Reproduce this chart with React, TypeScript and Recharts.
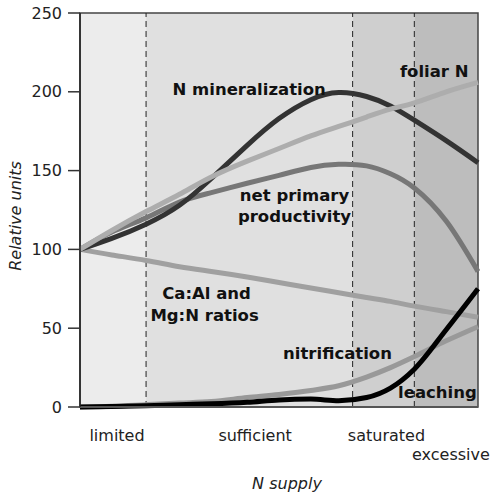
import React from "react";
import {
  LineChart,
  Line,
  XAxis,
  YAxis,
  ReferenceArea,
  ReferenceLine,
  ReferenceDot,
} from "recharts";

// N supply axis (0-100, arbitrary units)
const xs = [0, 8, 16.6, 25, 33, 42, 50, 58, 65, 72, 78, 84, 92, 100];

const nMineralization = [100, 107, 116, 128, 145, 166, 183, 195, 199.5, 197, 191, 182, 169, 155];
const foliarN = [100, 112, 124, 135, 146, 156, 164, 172, 178, 184, 189, 193, 200, 206];
const netPrimary = [100, 111, 120, 130, 136, 142, 147, 152, 154, 153, 148, 139, 118, 86];
const caAlRatios = [100, 96.5, 93, 89, 86, 82.5, 79, 75.5, 72.5, 69.5, 67, 64, 60.5, 57];
const nitrification = [0, 0.5, 1.5, 2.5, 3.5, 6, 8, 10.5, 13.5, 19, 25, 32, 42, 51];
const leaching = [0, 0.3, 0.8, 1.5, 2, 3, 4.5, 5, 4, 6, 12, 24, 49, 75];

const zoneEdges = [0, 16.6, 68.5, 84, 100];
const zoneFills = ["#ececec", "#e0e0e0", "#cfcfcf", "#bdbdbd"];

const supplyTicks = [9.3, 44, 77, 93.2];
const supplyLabels = ["limited", "sufficient", "saturated", "excessive"];

const yTicks = [0, 50, 100, 150, 200, 250];

const annotations = [
  { text: "N mineralization", x: 42.5, y: 202 },
  { text: "foliar N", x: 89, y: 213 },
  { text: "net primary", x: 53.9, y: 134.5 },
  { text: "productivity", x: 53.9, y: 121 },
  { text: "Ca:Al and", x: 31.8, y: 72.5 },
  { text: "Mg:N ratios", x: 31.3, y: 58.5 },
  { text: "nitrification", x: 64.7, y: 34 },
  { text: "leaching", x: 89.8, y: 9.7 },
];

const data = xs.map((x, i) => ({
  x,
  nmin: nMineralization[i],
  foliar: foliarN[i],
  npp: netPrimary[i],
  caal: caAlRatios[i],
  nitr: nitrification[i],
  leach: leaching[i],
}));

const SupplyTick = (props: any) => {
  const { x, y, payload } = props;
  const idx = supplyTicks.indexOf(payload.value);
  const label = supplyLabels[idx] ?? "";
  const drop = label === "excessive" ? 45 : 26;
  return (
    <text x={x} y={y + drop} textAnchor="middle" fontSize={16} fill="#222">
      {label}
    </text>
  );
};

export default function App() {
  return (
    <div style={{ position: "absolute", left: 0, top: 0, fontFamily: "DejaVu Sans" }}>
      <LineChart
        width={492}
        height={492}
        data={data}
        margin={{ top: 13, right: 14, left: 0, bottom: 0 }}
      >
        {zoneFills.map((fill, i) => (
          <ReferenceArea
            key={fill}
            x1={zoneEdges[i]}
            x2={zoneEdges[i + 1]}
            y1={0}
            y2={250}
            fill={fill}
            fillOpacity={1}
            stroke="none"
          />
        ))}
        {zoneEdges.slice(1, -1).map((edge) => (
          <ReferenceLine
            key={edge}
            x={edge}
            stroke="#222"
            strokeDasharray="6 4"
            strokeWidth={1}
          />
        ))}
        <XAxis
          type="number"
          dataKey="x"
          domain={[0, 100]}
          ticks={supplyTicks}
          tick={<SupplyTick />}
          tickLine={false}
          axisLine={{ stroke: "#555", strokeWidth: 2 }}
          height={85}
          label={{
            value: "N supply",
            position: "insideBottom",
            offset: 3,
            dx: 8,
            fontStyle: "italic",
            fontSize: 16,
            fill: "#222",
          }}
        />
        <YAxis
          type="number"
          domain={[0, 250]}
          ticks={yTicks}
          width={80}
          tickSize={12}
          tickMargin={6}
          tick={{ fontSize: 16, fill: "#222" }}
          tickLine={{ stroke: "#333", strokeWidth: 1.5 }}
          axisLine={{ stroke: "#222", strokeWidth: 1.5 }}
          label={(props: any) => {
            const vb = props.viewBox;
            const cy = vb.y + vb.height / 2 + 6;
            return (
              <text
                x={15}
                y={cy}
                transform={`rotate(-90 15 ${cy})`}
                textAnchor="middle"
                dominantBaseline="central"
                fontStyle="italic"
                fontSize={16}
                fill="#222"
              >
                Relative units
              </text>
            );
          }}
        />
        <Line type="natural" dataKey="caal" stroke="#a0a0a0" strokeWidth={5} dot={false} isAnimationActive={false} />
        <Line type="natural" dataKey="npp" stroke="#777777" strokeWidth={5} dot={false} isAnimationActive={false} />
        <Line type="natural" dataKey="nmin" stroke="#333333" strokeWidth={5} dot={false} isAnimationActive={false} />
        <Line type="natural" dataKey="foliar" stroke="#adadad" strokeWidth={5} dot={false} isAnimationActive={false} />
        <Line type="monotone" dataKey="nitr" stroke="#999999" strokeWidth={5} dot={false} isAnimationActive={false} />
        <Line type="monotone" dataKey="leach" stroke="#000000" strokeWidth={5} dot={false} isAnimationActive={false} />
        <ReferenceArea
          x1={0}
          x2={100}
          y1={0}
          y2={250}
          fill="none"
          stroke="#444"
          strokeWidth={1.5}
        />
        {annotations.map((a) => (
          <ReferenceDot
            key={a.text}
            x={a.x}
            y={a.y}
            r={0}
            fill="none"
            stroke="none"
            label={{
              value: a.text,
              position: "center",
              fontSize: 16.5,
              fontWeight: 700,
              fill: "#111",
            }}
          />
        ))}
      </LineChart>
    </div>
  );
}
